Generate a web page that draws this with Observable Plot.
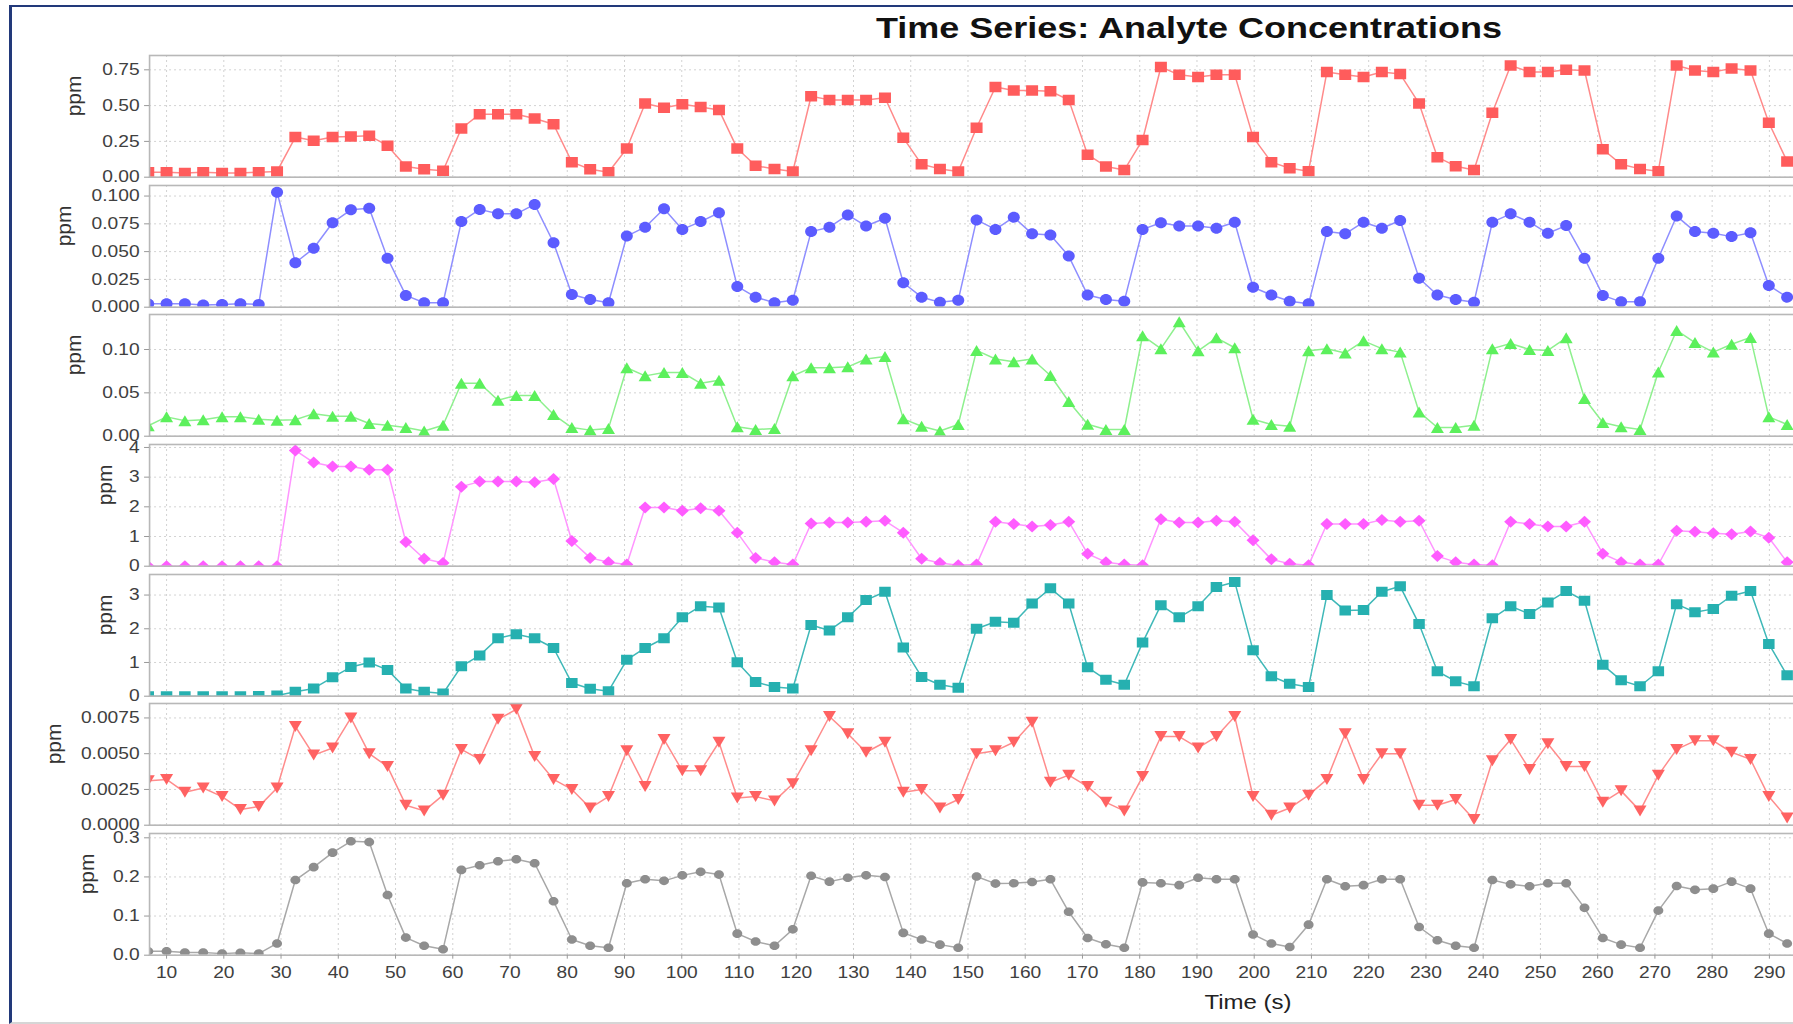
<!DOCTYPE html>
<html>
<head>
<meta charset="utf-8">
<script src="https://cdn.jsdelivr.net/npm/d3@7"></script>
<script src="https://cdn.jsdelivr.net/npm/@observablehq/plot@0.6"></script>
<style>
  html, body { margin: 0; padding: 0; width: 1793px; height: 1024px; overflow: hidden; background: #fff; }
  body { position: relative; font-family: "Liberation Sans", Arial, sans-serif; }
  #figure { position: absolute; left: 9px; top: 5px; width: 2400px; height: 1019px; box-sizing: border-box;
            border-top: 2px solid #22397a; border-left: 3px solid #22397a; border-bottom: 2px solid #d6d6d6; }
  #title { position: absolute; left: 689px; width: 1000px; top: 13px; line-height: 30px; text-align: center;
           font-size: 30px; font-weight: bold; color: #111; transform: scaleX(1.2); transform-origin: 50% 50%; }
  #xlabel { position: absolute; left: 1148px; width: 200px; top: 990px; line-height: 24px; text-align: center;
            font-size: 20px; color: #222; transform: scaleX(1.2); transform-origin: 50% 50%; }
  .panel { position: absolute; left: 0; }
</style>
</head>
<body>
<div id="figure"></div>
<div id="title">Time Series: Analyte Concentrations</div>
<div id="xlabel">Time (s)</div>
<div id="panels"></div>
<script>
// Sample times (s)
const timeSec = [6.8, 10.0, 13.2, 16.4, 19.7, 22.9, 26.1, 29.3, 32.5, 35.7, 39.0, 42.2, 45.4, 48.6, 51.8, 55.0,
  58.3, 61.5, 64.7, 67.9, 71.1, 74.3, 77.6, 80.8, 84.0, 87.2, 90.4, 93.6, 96.9, 100.1, 103.3, 106.5, 109.7, 112.9,
  116.2, 119.4, 122.6, 125.8, 129.0, 132.2, 135.5, 138.7, 141.9, 145.1, 148.3, 151.5, 154.8, 158.0, 161.2, 164.4,
  167.6, 170.9, 174.1, 177.3, 180.5, 183.7, 186.9, 190.2, 193.4, 196.6, 199.8, 203.0, 206.2, 209.5, 212.7, 215.9,
  219.1, 222.3, 225.5, 228.8, 232.0, 235.2, 238.4, 241.6, 244.8, 248.1, 251.3, 254.5, 257.7, 260.9, 264.1, 267.4,
  270.6, 273.8, 277.0, 280.2, 283.4, 286.7, 289.9, 293.1];

// Concentrations (ppm), one array per analyte
const analyteA = [0.035,
  0.035, 0.03, 0.035, 0.03, 0.03, 0.035, 0.04,
  0.28, 0.255, 0.28, 0.285, 0.29, 0.22, 0.075, 0.055, 0.045,
  0.34, 0.44, 0.44, 0.44, 0.41, 0.37, 0.105, 0.055, 0.035,
  0.2, 0.515, 0.485, 0.51, 0.49, 0.47, 0.2, 0.08, 0.058, 0.04,
  0.565, 0.54, 0.54, 0.54, 0.555, 0.275, 0.09, 0.058, 0.04,
  0.345, 0.63, 0.605, 0.605, 0.6, 0.54, 0.157, 0.075, 0.05,
  0.26, 0.77, 0.715, 0.7, 0.715, 0.715, 0.28, 0.105, 0.063, 0.042,
  0.735, 0.715, 0.7, 0.735, 0.72, 0.515, 0.14, 0.077, 0.05,
  0.45, 0.78, 0.735, 0.735, 0.75, 0.745, 0.195, 0.09, 0.058, 0.042,
  0.78, 0.745, 0.735, 0.76, 0.745, 0.38, 0.11];

const analyteB = [0.003,
  0.003, 0.003, 0.002, 0.0025, 0.003, 0.0025, 0.1035,
  0.040, 0.053, 0.076, 0.0876, 0.089, 0.044, 0.0106, 0.004, 0.004,
  0.077, 0.088, 0.084, 0.084, 0.0925, 0.058, 0.0115, 0.007, 0.004,
  0.064, 0.072, 0.0885, 0.070, 0.077, 0.085, 0.0187, 0.009, 0.004, 0.0063,
  0.068, 0.072, 0.083, 0.073, 0.080, 0.022, 0.009, 0.0045, 0.0063,
  0.0785, 0.070, 0.081, 0.066, 0.065, 0.046, 0.011, 0.007, 0.0054,
  0.070, 0.076, 0.073, 0.073, 0.071, 0.0765, 0.018, 0.011, 0.0054, 0.003,
  0.068, 0.066, 0.0765, 0.071, 0.078, 0.026, 0.011, 0.007, 0.0045,
  0.0765, 0.084, 0.0765, 0.0665, 0.0734, 0.044, 0.0106, 0.0048, 0.0048, 0.044,
  0.082, 0.068, 0.0665, 0.0635, 0.067, 0.0196, 0.009];

const analyteC = [0.012,
  0.0223, 0.0177, 0.019, 0.0223, 0.0223, 0.0196, 0.0185,
  0.019, 0.026, 0.023, 0.023, 0.0146, 0.0127, 0.010, 0.006, 0.0127,
  0.061, 0.061, 0.0415, 0.047, 0.047, 0.025, 0.010, 0.007, 0.009,
  0.079, 0.0696, 0.0735, 0.0735, 0.061, 0.0646, 0.0108, 0.0077, 0.0088, 0.0696,
  0.079, 0.079, 0.080, 0.089, 0.092, 0.020, 0.0115, 0.006, 0.0135,
  0.099, 0.089, 0.086, 0.089, 0.070, 0.040, 0.0138, 0.0077, 0.0077,
  0.116, 0.101, 0.132, 0.0985, 0.1135, 0.102, 0.0196, 0.0135, 0.0115, 0.0985,
  0.101, 0.096, 0.110, 0.101, 0.097, 0.028, 0.010, 0.010, 0.0127,
  0.101, 0.107, 0.100, 0.099, 0.1135, 0.0435, 0.0158, 0.0108, 0.0077, 0.074,
  0.122, 0.108, 0.097, 0.106, 0.114, 0.0223, 0.0135];

const analyteD = [0,
  0, 0, 0, 0, 0, 0, 0,
  3.9, 3.49, 3.36, 3.36, 3.25, 3.25, 0.815, 0.25, 0.11,
  2.68, 2.85, 2.85, 2.85, 2.83, 2.94, 0.85, 0.28, 0.136,
  0.057, 1.98, 1.98, 1.87, 1.95, 1.87, 1.13, 0.28, 0.136, 0.057,
  1.44, 1.47, 1.47, 1.5, 1.53, 1.13, 0.25, 0.11, 0.034,
  0.057, 1.5, 1.42, 1.34, 1.39, 1.5, 0.42, 0.136, 0.057,
  0.034, 1.585, 1.47, 1.47, 1.53, 1.5, 0.87, 0.23, 0.08, 0.034,
  1.42, 1.42, 1.42, 1.56, 1.5, 1.53, 0.34, 0.136, 0.057,
  0.034, 1.5, 1.42, 1.34, 1.34, 1.5, 0.42, 0.136, 0.057, 0.057,
  1.19, 1.16, 1.11, 1.08, 1.17, 0.96, 0.136];

const analyteE = [0,
  0.0, 0.0, 0.0, 0.0, 0.0, 0.005, 0.02,
  0.13, 0.23, 0.56, 0.865, 1.0, 0.78, 0.23, 0.13, 0.08,
  0.885, 1.21, 1.72, 1.84, 1.72, 1.43, 0.39, 0.22, 0.15,
  1.08, 1.43, 1.72, 2.34, 2.67, 2.63, 1.01, 0.42, 0.275, 0.23,
  2.11, 1.95, 2.34, 2.85, 3.1, 1.445, 0.57, 0.34, 0.25,
  2.0, 2.21, 2.18, 2.75, 3.2, 2.75, 0.855, 0.49, 0.34,
  1.59, 2.7, 2.34, 2.67, 3.24, 3.39, 1.36, 0.59, 0.37, 0.275,
  3.0, 2.54, 2.56, 3.1, 3.26, 2.14, 0.74, 0.44, 0.295,
  2.31, 2.67, 2.44, 2.78, 3.12, 2.83, 0.93, 0.47, 0.295, 0.74,
  2.73, 2.49, 2.59, 2.98, 3.12, 1.55, 0.62];

const analyteF = [0.0031,
  0.0032, 0.0023, 0.0026, 0.002, 0.0011, 0.0013, 0.0026,
  0.0069, 0.0049, 0.0054, 0.0075, 0.005, 0.0041, 0.0014, 0.001, 0.0021,
  0.0053, 0.0046, 0.0074, 0.0081, 0.0048, 0.0032, 0.0025, 0.0012, 0.002,
  0.0052, 0.0027, 0.006, 0.0038, 0.0038, 0.0058, 0.0019, 0.002, 0.0017, 0.0029,
  0.0052, 0.0076, 0.0064, 0.0051, 0.0058, 0.0023, 0.0025, 0.0012, 0.0018,
  0.005, 0.0052, 0.0058, 0.0072, 0.003, 0.0035, 0.0027, 0.0016, 0.001,
  0.0034, 0.0062, 0.0062, 0.0054, 0.0062, 0.0076, 0.002, 0.0007, 0.0012, 0.0021,
  0.0032, 0.0064, 0.0032, 0.005, 0.005, 0.0014, 0.0014, 0.0018, 0.0004,
  0.0045, 0.006, 0.0039, 0.0057, 0.0041, 0.0041, 0.0016, 0.0024, 0.001, 0.0035,
  0.0053, 0.0059, 0.0059, 0.0051, 0.0046, 0.002, 0.0005];

const analyteG = [0.01,
  0.010, 0.007, 0.007, 0.004, 0.006, 0.004, 0.03,
  0.192, 0.225, 0.262, 0.291, 0.289, 0.154, 0.045, 0.024, 0.015,
  0.218, 0.23, 0.24, 0.245, 0.235, 0.138, 0.04, 0.024, 0.019,
  0.184, 0.194, 0.19, 0.204, 0.213, 0.206, 0.055, 0.035, 0.024, 0.066,
  0.203, 0.188, 0.198, 0.204, 0.2, 0.057, 0.04, 0.027, 0.019,
  0.201, 0.183, 0.184, 0.187, 0.194, 0.111, 0.044, 0.028, 0.019,
  0.186, 0.184, 0.179, 0.198, 0.194, 0.194, 0.053, 0.03, 0.021, 0.078,
  0.194, 0.176, 0.179, 0.194, 0.194, 0.072, 0.038, 0.024, 0.019,
  0.192, 0.181, 0.176, 0.184, 0.184, 0.121, 0.044, 0.027, 0.019, 0.114,
  0.177, 0.167, 0.17, 0.188, 0.17, 0.055, 0.03];

// Axis ticks
const xTicks = [10, 20, 30, 40, 50, 60, 70, 80, 90, 100, 110, 120, 130, 140, 150, 160, 170, 180, 190, 200,
  210, 220, 230, 240, 250, 260, 270, 280, 290];
const yTicksA = [0, 0.25, 0.5, 0.75];
const yTicksB = [0, 0.025, 0.05, 0.075, 0.1];
const yTicksC = [0, 0.05, 0.1];
const yTicksD = [0, 1, 2, 3, 4];
const yTicksE = [0, 1, 2, 3];
const yTicksF = [0, 0.0025, 0.005, 0.0075];
const yTicksG = [0, 0.1, 0.2, 0.3];

// Marker shapes (slightly wider than tall)
const rectSym = (w, h) => ({ draw(c) { c.rect(-w / 2, -h / 2, w, h); } });
const ellipseSym = (rx, ry) => ({ draw(c) {
  const k = 0.5523;
  c.moveTo(rx, 0);
  c.bezierCurveTo(rx, k * ry, k * rx, ry, 0, ry);
  c.bezierCurveTo(-k * rx, ry, -rx, k * ry, -rx, 0);
  c.bezierCurveTo(-rx, -k * ry, -k * rx, -ry, 0, -ry);
  c.bezierCurveTo(k * rx, -ry, rx, -k * ry, rx, 0);
  c.closePath();
} });
const triUpSym = (w, h) => ({ draw(c) { c.moveTo(0, -h / 2); c.lineTo(w / 2, h / 2); c.lineTo(-w / 2, h / 2); c.closePath(); } });
const triDownSym = (w, h) => ({ draw(c) { c.moveTo(0, h / 2); c.lineTo(w / 2, -h / 2); c.lineTo(-w / 2, -h / 2); c.closePath(); } });
const diamondSym = (w, h) => ({ draw(c) { c.moveTo(0, -h / 2); c.lineTo(w / 2, 0); c.lineTo(0, h / 2); c.lineTo(-w / 2, 0); c.closePath(); } });

const panels = [
  { values: analyteA, domain: [0, 0.85],   ticks: yTicksA, fmt: d3.format(".2f"), dot: "#ff5c5c", line: "#ff8a8a", symbol: rectSym(12, 10.5), labelDx: -75 },
  { values: analyteB, domain: [0, 0.1095], ticks: yTicksB, fmt: d3.format(".3f"), dot: "#5c5cff", line: "#8e8eff", symbol: ellipseSym(6, 5.5), labelDx: -85 },
  { values: analyteC, domain: [0, 0.1404], ticks: yTicksC, fmt: d3.format(".2f"), dot: "#5cf05c", line: "#8ef08e", symbol: triUpSym(13, 11), labelDx: -75 },
  { values: analyteD, domain: [0, 4.1],    ticks: yTicksD, fmt: d3.format("d"),   dot: "#ff5cff", line: "#ff95ff", symbol: diamondSym(13, 12), labelDx: -44 },
  { values: analyteE, domain: [0, 3.61],   ticks: yTicksE, fmt: d3.format("d"),   dot: "#26b0b0", line: "#3fb8b8", symbol: rectSym(11.5, 10), labelDx: -44 },
  { values: analyteF, domain: [0, 0.00851],ticks: yTicksF, fmt: d3.format(".4f"), dot: "#ff6262", line: "#ff8c8c", symbol: triDownSym(13, 11), labelDx: -95 },
  { values: analyteG, domain: [0, 0.311],  ticks: yTicksG, fmt: d3.format(".1f"), dot: "#8e8e8e", line: "#a8a8a8", symbol: ellipseSym(5, 4.3), labelDx: -62 }
];

const firstTop = 55, step = 129.67, innerH = 121.7, pad = 14;
const gridStyle = { stroke: "#d2d2d2", strokeOpacity: 1, strokeDasharray: "2,3", strokeWidth: 1 };
const host = document.getElementById("panels");

panels.forEach((p, i) => {
  const last = i === panels.length - 1;
  const mb = last ? 40 : pad;
  const rows = timeSec.map((t, j) => ({ t, v: p.values[j] }));
  const chart = Plot.plot({
    width: 1802,
    height: innerH + pad + mb,
    marginLeft: 149, marginRight: 0, marginTop: pad, marginBottom: mb,
    style: { background: "transparent", overflow: "visible", maxWidth: "none", fontFamily: "'Liberation Sans', Arial, sans-serif" },
    x: { domain: [7.03, 295.77], axis: null },
    y: { domain: p.domain, axis: null },
    marks: [
      Plot.gridY(p.ticks, gridStyle),
      Plot.gridX(xTicks, gridStyle),
      Plot.line(rows, { x: "t", y: "v", stroke: p.line, strokeWidth: 1.5, clip: true }),
      Plot.dot(rows, { x: "t", y: "v", symbol: p.symbol, fill: p.dot, stroke: "none", clip: true }),
      Plot.frame({ stroke: "#b8b8b8", strokeWidth: 1.6 }),
      Plot.axisY(p.ticks, { tickFormat: p.fmt, tickSize: 5, tickPadding: 5, fontSize: 16, stroke: "#999", fill: "#404040", label: null }),
      last ? Plot.axisX(xTicks, { tickSize: 4, tickPadding: 7, fontSize: 16, stroke: "#999", fill: "#404040", label: null }) : null,
      Plot.text(["ppm"], { frameAnchor: "left", dx: p.labelDx, rotate: -90, fontSize: 21, fill: "#333" })
    ]
  });
  const wrap = document.createElement("div");
  wrap.className = "panel";
  wrap.style.top = (firstTop + i * step - pad) + "px";
  wrap.appendChild(chart);
  host.appendChild(wrap);
});

// Widen horizontal tick labels a little to match the chart's typography
document.querySelectorAll("#panels svg text").forEach(t => {
  const tr = (t.getAttribute("transform") || "") + (t.parentNode.getAttribute && (t.parentNode.getAttribute("transform") || ""));
  if (tr.includes("rotate")) return;
  const len = t.getComputedTextLength();
  if (len > 0) {
    t.setAttribute("textLength", (len * 1.2).toFixed(2));
    t.setAttribute("lengthAdjust", "spacingAndGlyphs");
  }
});
</script>
</body>
</html>
